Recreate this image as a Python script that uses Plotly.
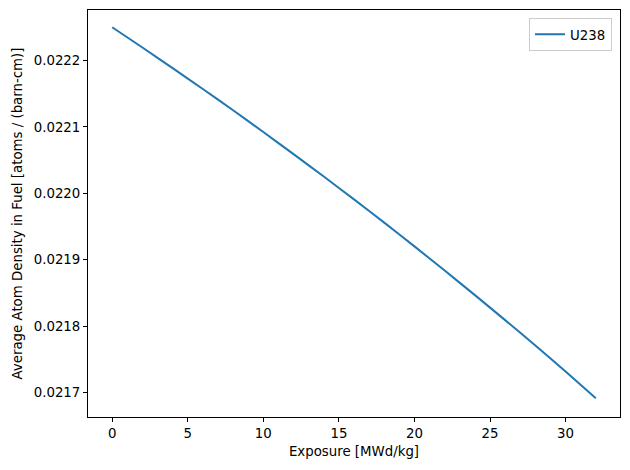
import plotly.graph_objects as go

exposure = [0, 2, 4, 6, 8, 10, 12, 14, 16, 18, 20, 22, 24, 26, 28, 30, 32]
u238 = [0.0222500, 0.0222195, 0.0221885, 0.0221570, 0.0221250, 0.0220922,
        0.0220590, 0.0220252, 0.0219908, 0.0219558, 0.0219200, 0.0218836,
        0.0218466, 0.0218090, 0.0217707, 0.0217316, 0.0216915]
x_ticks = [0, 5, 10, 15, 20, 25, 30]
y_ticks = [0.0217, 0.0218, 0.0219, 0.0220, 0.0221, 0.0222]

fig = go.Figure()
fig.add_trace(go.Scatter(x=exposure, y=u238, mode="lines", name="U238",
                         line=dict(color="#1f77b4", width=2, shape="spline", smoothing=0.8)))

font = dict(family="DejaVu Sans", size=13.33, color="black")
axis_common = dict(showline=True, linecolor="black", linewidth=1, mirror=True,
                   ticks="outside", ticklen=4, tickwidth=1, tickcolor="black",
                   showgrid=False, zeroline=False, tickfont=font)
fig.update_layout(
    width=630, height=470,
    margin=dict(l=88, r=10, t=10, b=53),
    plot_bgcolor="white", paper_bgcolor="white",
    font=font,
    xaxis=dict(range=[-1.6, 33.6], tickvals=x_ticks,
               title=dict(text="Exposure [MWd/kg]", font=font, standoff=6),
               **axis_common),
    yaxis=dict(range=[0.0216631, 0.022276], tickvals=y_ticks, tickformat=".4f",
               title=dict(text="Average Atom Density in Fuel [atoms / (barn-cm)]",
                          font=font, standoff=8),
               **axis_common),
    showlegend=True,
    legend=dict(x=0.985, y=0.98, xanchor="right", yanchor="top",
                bordercolor="#cccccc", borderwidth=1, bgcolor="white",
                font=font),
)
fig.write_html("out.html")
